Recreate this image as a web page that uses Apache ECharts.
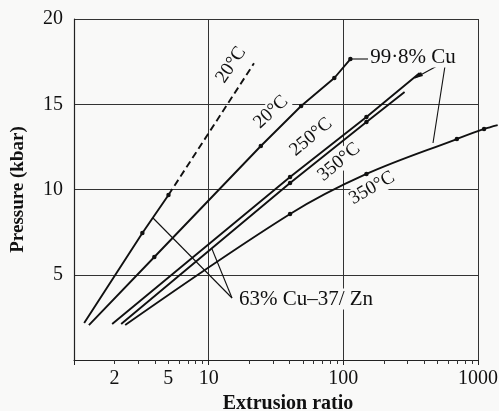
<!DOCTYPE html>
<html>
<head>
<meta charset="utf-8">
<script src="https://cdn.jsdelivr.net/npm/echarts@6/dist/echarts.min.js"></script>
<style>
html,body{margin:0;padding:0;background:#f9f9f8;}
#c{width:499px;height:411px;}
</style>
</head>
<body>
<div id="c"></div>
<script>
// ---- data (extrusion ratio, pressure kbar) ----
const brass20Solid  = [[1.19, 2.17], [3.22, 7.45], [5.03, 9.68]];
const brass20Dashed = [[5.03, 9.68], [21.7, 17.4]];
const cu20     = [[1.29, 2.05], [3.95, 6.04], [24.4, 12.55], [48.6, 14.9], [85.7, 16.54], [112.8, 17.65]];
const cu250    = [[1.92, 2.11], [40.2, 10.73], [148.5, 14.25], [369, 16.83]];
const brass350 = [[2.24, 2.11], [40.2, 10.38], [148.5, 13.96], [285, 15.72]];
const cu350    = [[2.40, 2.05], [40.2, 8.56], [148.5, 10.91], [697, 12.96], [1109, 13.55], [1400, 13.78]];
// which points carry a marker dot
const markBrass20 = [0, 1, 1];
const markCu20 = [0, 1, 1, 1, 1, 1];
const markCu250 = [0, 1, 1, 0];
const markBrass350 = [0, 1, 1, 0];
const markCu350 = [0, 1, 1, 1, 1, 0];
// axis ticks / labels
const yTicks = [0, 5, 10, 15, 20];
const xMajor = [1, 10, 100, 1000];
const xMinorLabels = [2, 5];
const xMinorTicks = [2,3,4,5,6,7,8,9,20,30,40,50,60,70,80,90,200,300,400,500,600,700,800,900];

const FONT = '"Liberation Serif","DejaVu Serif",serif';
const INK = '#111';
const BG = '#f9f9f8';

// layout
const W = 499, G_LEFT = 74, G_RIGHT = 21, G_TOP = 19, G_BOTTOM = 51;
const plotW = W - G_LEFT - G_RIGHT;
const decades = Math.log10(xMajor[xMajor.length - 1] / xMajor[0]);
// an invisible, wider overlay axis with identical scale, so the 350°C Cu curve may run past 1000
const wideMax = Math.pow(10, decades * (W - G_LEFT) / plotW);

function withMarks(data, marks) {
  return data.map((p, i) => ({ value: p, symbol: marks[i] ? 'circle' : 'none', symbolSize: 4.5 }));
}
function lineSeries(data, marks, opts) {
  return Object.assign({
    type: 'line',
    data: marks ? withMarks(data, marks) : data,
    showSymbol: true,
    symbol: 'none',
    clip: false,
    itemStyle: { color: INK },
    lineStyle: { color: INK, width: 1.9 },
    emphasis: { disabled: true },
    silent: true,
    animation: false
  }, opts || {});
}

const chart = echarts.init(document.getElementById('c'));
chart.setOption({
  backgroundColor: BG,
  animation: false,
  grid: [
    { left: G_LEFT, right: G_RIGHT, top: G_TOP, bottom: G_BOTTOM, containLabel: false, outerBoundsMode: 'none' },
    { left: G_LEFT, right: 0, top: G_TOP, bottom: G_BOTTOM, containLabel: false, outerBoundsMode: 'none' }
  ],
  xAxis: [{
    gridIndex: 0,
    type: 'log', logBase: 10, min: xMajor[0], max: xMajor[xMajor.length - 1],
    name: 'Extrusion ratio', nameLocation: 'middle', nameGap: 31,
    nameTextStyle: { fontFamily: FONT, fontWeight: 'bold', fontSize: 20, color: INK, padding: [0, 0, 0, 24] },
    axisLine: { show: true, lineStyle: { color: '#222', width: 1.2 } },
    axisTick: { show: true, inside: false, length: 5, lineStyle: { color: '#222' } },
    axisLabel: { fontFamily: FONT, fontSize: 20, color: INK, margin: 9,
      formatter: v => (v === 1 ? '' : String(v)), showMaxLabel: true },
    splitLine: { show: true, lineStyle: { color: '#333', width: 1 } }
  }, {
    gridIndex: 0,
    type: 'value', min: 0, max: decades, position: 'bottom',
    axisLine: { show: false },
    axisTick: { show: true, length: 4, lineStyle: { color: '#333' },
      customValues: xMinorTicks.map(v => Math.log10(v)) },
    axisLabel: { show: true, fontFamily: FONT, fontSize: 20, color: INK, margin: 9,
      customValues: xMinorLabels.map(v => Math.log10(v)),
      formatter: v => String(Math.round(Math.pow(10, v))) },
    splitLine: { show: false }
  }, {
    gridIndex: 1, show: false,
    type: 'log', logBase: 10, min: xMajor[0], max: wideMax
  }],
  yAxis: [{
    gridIndex: 0,
    type: 'value', min: yTicks[0], max: yTicks[yTicks.length - 1], interval: 5,
    name: 'Pressure (kbar)', nameLocation: 'middle', nameGap: 46,
    nameTextStyle: { fontFamily: FONT, fontWeight: 'bold', fontSize: 19, color: INK },
    axisLine: { show: true, lineStyle: { color: '#222', width: 1.2 } },
    axisTick: { show: false },
    axisLabel: { fontFamily: FONT, fontSize: 20, color: INK, margin: 11,
      formatter: v => (v === 0 ? '' : String(v)) },
    splitLine: { show: true, lineStyle: { color: '#333', width: 1 } }
  }, {
    gridIndex: 1, show: false,
    type: 'value', min: yTicks[0], max: yTicks[yTicks.length - 1]
  }],
  series: [
    lineSeries(brass20Solid, markBrass20),
    lineSeries(brass20Dashed, null, { lineStyle: { color: INK, width: 1.9, type: [7, 4] } }),
    lineSeries(cu20, markCu20),
    lineSeries(cu250, markCu250),
    lineSeries(brass350, markBrass350),
    lineSeries(cu350, markCu350, { smooth: 0.35, xAxisIndex: 2, yAxisIndex: 1 })
  ]
});

// ---- annotations (text + leader lines) ----
const lbl = (text, x, y, deg, size) => ({
  type: 'text', x: x, y: y, rotation: deg * Math.PI / 180, z: 50,
  style: { text: text, fontFamily: FONT, fontSize: size || 19, fill: INK,
    align: 'center', verticalAlign: 'middle', backgroundColor: BG, padding: [0, 1] }
});
const seg = (pts) => ({ type: 'polyline', z: 40, shape: { points: pts },
  style: { stroke: INK, lineWidth: 1.1, fill: null } });

chart.setOption({
  graphic: [
    lbl('20°C', 231, 65, 56),
    lbl('20°C', 271, 112, 43),
    lbl('250°C', 311, 137, 40),
    lbl('350°C', 339, 162, 40),
    lbl('350°C', 372, 188, 30),
    lbl('99·8% Cu', 413, 57, 0, 21),
    lbl('63% Cu–37/ Zn', 306, 299, 0, 21),
    seg([[349, 59], [368, 59]]),
    seg([[437, 66], [415, 78]]),
    { type: 'polygon', z: 40, shape: { points: [[414, 78.5], [421, 72], [423, 76]] }, style: { fill: INK } },
    seg([[445, 66], [433, 143]]),
    seg([[153, 218], [232, 298]]),
    seg([[212, 249], [232, 298]])
  ]
});
</script>
</body>
</html>
